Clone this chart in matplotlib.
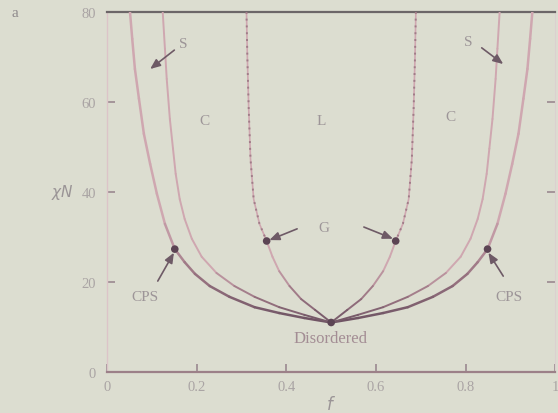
import numpy as np
import matplotlib
matplotlib.use("Agg")
import matplotlib.pyplot as plt
from matplotlib.collections import LineCollection
from matplotlib.colors import LinearSegmentedColormap

# Phase boundaries of the diblock melt: composition f vs segregation chi*N
# outer boundary (disordered / CPS / spheres)
odt_left_f = [0.051, 0.056, 0.062, 0.071, 0.082, 0.096, 0.111, 0.129, 0.151,
              0.173, 0.196, 0.229, 0.273, 0.329, 0.384, 0.440, 0.500]
odt_left_chin = [80, 74.0, 67.3, 60.7, 52.9, 46.2, 39.6, 32.9, 27.3,
                 24.4, 21.8, 19.1, 16.7, 14.4, 13.1, 12.0, 11.0]
odt_right_f = [0.949, 0.944, 0.938, 0.929, 0.918, 0.904, 0.889, 0.871, 0.849,
               0.827, 0.804, 0.771, 0.727, 0.671, 0.616, 0.560, 0.500]
odt_right_chin = odt_left_chin

# spheres / cylinders boundary
sc_left_f = [0.124, 0.129, 0.133, 0.140, 0.147, 0.153, 0.162, 0.173, 0.189,
             0.211, 0.244, 0.284, 0.329, 0.384, 0.440, 0.500]
sc_left_chin = [80, 71.8, 65.1, 56.2, 49.6, 44.0, 38.4, 34.0, 29.6,
                25.6, 22.0, 19.1, 16.7, 14.4, 12.7, 11.0]
sc_right_f = [0.876, 0.871, 0.867, 0.860, 0.853, 0.847, 0.838, 0.827, 0.811,
              0.789, 0.756, 0.716, 0.671, 0.616, 0.560, 0.500]
sc_right_chin = sc_left_chin

# cylinders / lamellae (upper, dotted) and cylinders / gyroid (lower)
cl_left_f = [0.311, 0.313, 0.316, 0.320, 0.327, 0.340, 0.356]
cl_left_chin = [80, 69.6, 58.4, 47.3, 38.4, 32.9, 29.1]
cl_right_f = [0.689, 0.687, 0.684, 0.680, 0.673, 0.660, 0.644]
cl_right_chin = cl_left_chin

cg_left_f = [0.356, 0.369, 0.384, 0.407, 0.433, 0.464, 0.500]
cg_left_chin = [29.1, 25.6, 22.4, 19.1, 16.2, 13.8, 11.0]
cg_right_f = [0.644, 0.631, 0.616, 0.593, 0.567, 0.536, 0.500]
cg_right_chin = cg_left_chin

# triple points and the critical point
point_f = [0.151, 0.849, 0.356, 0.644, 0.500]
point_chin = [27.3, 27.3, 29.1, 29.1, 11.0]

x_ticks = [0, 0.2, 0.4, 0.6, 0.8, 1]
x_ticklabels = ["0", "0.2", "0.4", "0.6", "0.8", "1"]
y_ticks = [0, 20, 40, 60, 80]
y_ticklabels = ["0", "20", "40", "60", "80"]

bg = "#dcddd0"
pink = "#cfa7b0"
dark = "#6a5060"
text_c = "#9d9598"

plt.rcParams["font.family"] = ["Liberation Serif", "DejaVu Serif"]

fig = plt.figure(figsize=(5.58, 4.14), dpi=100, facecolor=bg)
ax = fig.add_axes([0.192, 0.099, 0.803, 0.870], facecolor=bg)
ax.set_xlim(0, 1)
ax.set_ylim(0, 80)

shade = LinearSegmentedColormap.from_list("shade", [dark, "#9a7482", pink, pink])


def shaded_line(fs, cs, lw, dark_limit):
    fs = np.asarray(fs, float)
    cs = np.asarray(cs, float)
    pts = np.column_stack([fs, cs]).reshape(-1, 1, 2)
    segs = np.concatenate([pts[:-1], pts[1:]], axis=1)
    mid = 0.5 * (cs[:-1] + cs[1:])
    vals = np.clip((mid - 10) / (dark_limit - 10), 0, 1)
    lc = LineCollection(segs, colors=shade(vals), linewidths=lw,
                        capstyle="round", joinstyle="round", zorder=3)
    ax.add_collection(lc)


for fs, cs in [(odt_left_f, odt_left_chin), (odt_right_f, odt_right_chin)]:
    shaded_line(fs, cs, 1.8, 45)
for fs, cs in [(sc_left_f, sc_left_chin), (sc_right_f, sc_right_chin)]:
    shaded_line(fs, cs, 1.4, 30)
for fs, cs in [(cg_left_f, cg_left_chin), (cg_right_f, cg_right_chin)]:
    shaded_line(fs, cs, 1.4, 30)
for fs, cs in [(cl_left_f, cl_left_chin), (cl_right_f, cl_right_chin)]:
    ax.plot(fs, cs, color=pink, lw=1.2, zorder=2)
    ax.plot(fs, cs, color="#a07c88", lw=1.4, ls=(0, (1, 2.5)), zorder=3)

ax.scatter(point_f, point_chin, s=30, color="#5c4454", zorder=4, edgecolors="none")

# region labels
lab = dict(color=text_c, fontsize=11, ha="center", va="center")
ax.text(0.169, 72.9, "S", **lab)
ax.text(0.807, 73.3, "S", **lab)
ax.text(0.218, 55.8, "C", **lab)
ax.text(0.478, 55.8, "L", **lab)
ax.text(0.767, 56.7, "C", **lab)
ax.text(0.484, 32.2, "G", **lab)
ax.text(0.084, 16.7, "CPS", **lab)
ax.text(0.896, 16.7, "CPS", **lab)
ax.text(0.498, 7.6, "Disordered", color="#a38d94", fontsize=12,
        ha="center", va="center")

arrow = dict(arrowstyle="-|>,head_length=0.6,head_width=0.25",
             color="#6e5a66", lw=1.2, shrinkA=0, shrinkB=0)
ax.annotate("", xy=(0.096, 67.3), xytext=(0.150, 71.5), arrowprops=arrow)
ax.annotate("", xy=(0.884, 68.4), xytext=(0.836, 72.0), arrowprops=arrow)
ax.annotate("", xy=(0.362, 29.3), xytext=(0.424, 31.8), arrowprops=arrow)
ax.annotate("", xy=(0.638, 29.6), xytext=(0.573, 32.2), arrowprops=arrow)
ax.annotate("", xy=(0.149, 26.5), xytext=(0.113, 20.2), arrowprops=arrow)
ax.annotate("", xy=(0.851, 26.5), xytext=(0.884, 21.3), arrowprops=arrow)

ax.set_xticks(x_ticks)
ax.set_xticklabels(x_ticklabels)
ax.set_yticks(y_ticks)
ax.set_yticklabels(y_ticklabels)
ax.tick_params(axis="both", direction="in", length=6, width=1.2,
               color="#9a8890", labelcolor="#aaa4a4", labelsize=10.5)
ax.tick_params(axis="y", right=True, pad=8)
ax.tick_params(axis="x", pad=6)

ax.spines["top"].set_color("#6c6668")
ax.spines["top"].set_linewidth(1.6)
ax.spines["bottom"].set_color("#9c8088")
ax.spines["bottom"].set_linewidth(1.6)
ax.spines["left"].set_color("#dcc4c8")
ax.spines["left"].set_linewidth(1.0)
ax.spines["right"].set_color("#dcd0d0")
ax.spines["right"].set_linewidth(0.8)

ax.set_xlabel("$f$", color="#9a9496", fontsize=12, labelpad=1)
ax.set_ylabel(r"$\chi N$", color="#9a9496", fontsize=11, rotation=0,
              labelpad=14, va="center")
fig.text(0.027, 0.968, "a", color="#8f8a8c", fontsize=11, ha="center", va="center")

fig.savefig("out.png", dpi=100, facecolor=bg)
